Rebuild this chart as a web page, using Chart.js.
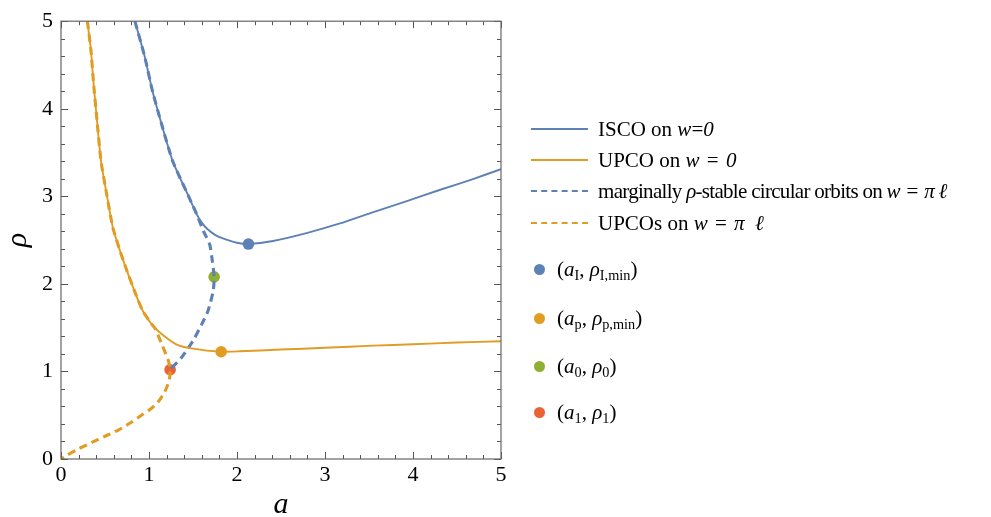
<!DOCTYPE html>
<html>
<head>
<meta charset="utf-8">
<script src="https://cdn.jsdelivr.net/npm/chart.js@4"></script>
<style>
  html, body { margin:0; padding:0; background:#fff; }
  #wrap { position:relative; width:991px; height:517px; }
  #c { position:absolute; left:0; top:0; }
  .leg { position:absolute; font-family:"Liberation Serif", "Times New Roman", serif; font-size:21px; color:#000; white-space:nowrap; line-height:1; }
  .row { position:absolute; display:flex; align-items:center; height:30px; }
  .sw { width:57px; height:0; margin-right:10px; }
  .dot { width:11px; height:11px; border-radius:50%; margin-left:-5px; margin-right:12px; }
  .eq { padding:0 2px; }
  sub { font-size:0.68em; vertical-align:-0.28em; line-height:0; }
</style>
</head>
<body>
<div id="wrap">
<canvas id="c" width="991" height="517"></canvas>
<div class="leg">
  <div class="row" style="left:531px; top:114px;"><div class="sw" style="border-top:2px solid #5E81B5"></div><span>ISCO on <i>w</i>=<i>0</i></span></div>
  <div class="row" style="left:531px; top:145px;"><div class="sw" style="border-top:2px solid #E19C24"></div><span>UPCO on <i>w</i> <span class="eq">=</span> <i>0</i></span></div>
  <div class="row" style="left:531px; top:176px;"><div class="sw" style="border-top:2.5px dashed #5E81B5"></div><span style="letter-spacing:-0.7px">marginally <i>ρ</i>-stable circular orbits on <i>w</i> <span class="eq">=</span> <i>π</i> <i>ℓ</i></span></div>
  <div class="row" style="left:531px; top:208px;"><div class="sw" style="border-top:2.5px dashed #E19C24"></div><span>UPCOs on <i>w</i> <span class="eq">=</span> <i>π</i>&nbsp; <i>ℓ</i></span></div>
  <div class="row" style="left:539px; top:254px;"><div class="dot" style="background:#5E81B5"></div><span>(<i>a</i><sub>I</sub>, <i>ρ</i><sub>I,min</sub>)</span></div>
  <div class="row" style="left:539px; top:303px;"><div class="dot" style="background:#E19C24"></div><span>(<i>a</i><sub>p</sub>, <i>ρ</i><sub>p,min</sub>)</span></div>
  <div class="row" style="left:539px; top:351px;"><div class="dot" style="background:#8FB032"></div><span>(<i>a</i><sub>0</sub>, <i>ρ</i><sub>0</sub>)</span></div>
  <div class="row" style="left:539px; top:397px;"><div class="dot" style="background:#EB6235"></div><span>(<i>a</i><sub>1</sub>, <i>ρ</i><sub>1</sub>)</span></div>
</div>
</div>
<script>
// ---- data ----
const iscoA   = [0.84, 0.95, 1.04, 1.15, 1.27, 1.45, 1.54, 1.60, 1.66, 1.75, 1.84, 2.00, 2.13, 2.41, 2.79, 3.17, 3.55, 3.93, 4.31, 4.69, 5.00];
const iscoRho = [5.00, 4.60, 4.20, 3.80, 3.40, 3.00, 2.80, 2.70, 2.63, 2.56, 2.52, 2.47, 2.455, 2.49, 2.58, 2.69, 2.82, 2.945, 3.075, 3.20, 3.31];

const upcoA   = [0.30, 0.34, 0.37, 0.405, 0.455, 0.52, 0.59, 0.71, 0.85, 0.93, 1.03, 1.14, 1.31, 1.50, 1.82, 2.03, 2.50, 3.00, 3.55, 4.00, 4.50, 5.00];
const upcoRho = [5.00, 4.67, 4.29, 3.91, 3.40, 3.02, 2.64, 2.26, 1.88, 1.69, 1.54, 1.43, 1.31, 1.26, 1.225, 1.23, 1.25, 1.27, 1.295, 1.31, 1.33, 1.345];

const margA   = [0.84, 0.95, 1.04, 1.15, 1.27, 1.45, 1.54, 1.62, 1.69, 1.72, 1.74, 1.73, 1.67, 1.60, 1.50, 1.37, 1.24];
const margRho = [5.00, 4.60, 4.20, 3.80, 3.40, 3.00, 2.80, 2.60, 2.45, 2.26, 2.08, 1.92, 1.69, 1.54, 1.35, 1.16, 1.02];

const upcosA   = [0.30, 0.34, 0.37, 0.405, 0.455, 0.52, 0.59, 0.71, 0.85, 0.93, 1.03, 1.07, 1.15, 1.22, 1.24, 1.235, 1.21, 1.17, 1.11, 1.03, 0.93, 0.80, 0.65, 0.50, 0.35, 0.20, 0.07, 0.00];
const upcosRho = [5.00, 4.67, 4.29, 3.91, 3.40, 3.02, 2.64, 2.26, 1.88, 1.69, 1.54, 1.49, 1.30, 1.125, 1.02, 0.93, 0.84, 0.75, 0.66, 0.58, 0.51, 0.42, 0.33, 0.26, 0.19, 0.115, 0.045, 0.00];

const markerA   = [2.13, 1.82, 1.74, 1.24];
const markerRho = [2.455, 1.225, 2.08, 1.02];
const markerColors = ['#5E81B5', '#E19C24', '#8FB032', '#EB6235'];

const xTickLabels = ['0', '1', '2', '3', '4', '5'];
const yTickLabels = ['0', '1', '2', '3', '4', '5'];

const BLUE = '#5E81B5', ORANGE = '#E19C24';
const pts = (xs, ys) => xs.map((x, i) => ({ x: x, y: ys[i] }));

const frameTicks = {
  id: 'frameTicks',
  afterDatasetsDraw(chart) {
    const { ctx, chartArea: ca, scales: { x, y } } = chart;
    ctx.save();
    ctx.strokeStyle = '#555';
    ctx.lineWidth = 1;
    ctx.beginPath();
    for (let i = 0; i <= 25; i++) {
      const v = i / 5;
      const L = (i % 5 === 0) ? 7 : 4;
      const px = Math.round(x.getPixelForValue(v)) + 0.5;
      ctx.moveTo(px, ca.bottom); ctx.lineTo(px, ca.bottom - L);
      ctx.moveTo(px, ca.top); ctx.lineTo(px, ca.top + L);
      const py = Math.round(y.getPixelForValue(v)) + 0.5;
      ctx.moveTo(ca.left, py); ctx.lineTo(ca.left + L, py);
      ctx.moveTo(ca.right, py); ctx.lineTo(ca.right - L, py);
    }
    ctx.stroke();
    ctx.strokeStyle = '#666';
    ctx.lineWidth = 1.2;
    ctx.strokeRect(ca.left, ca.top, ca.right - ca.left, ca.bottom - ca.top);
    ctx.restore();
  }
};

const lineDs = (label, xs, ys, color, dashed) => ({
  label, data: pts(xs, ys), showLine: true, borderColor: color, backgroundColor: color,
  borderWidth: dashed ? 3.1 : 1.9, borderDash: dashed ? [8, 5] : [], pointRadius: 0,
  tension: 0.2, fill: false
});

new Chart(document.getElementById('c'), {
  type: 'scatter',
  data: {
    datasets: [
      lineDs('ISCO on w=0', iscoA, iscoRho, BLUE, false),
      lineDs('UPCO on w = 0', upcoA, upcoRho, ORANGE, false),
      lineDs('marginally ρ-stable circular orbits on w = π ℓ', margA, margRho, BLUE, true),
      lineDs('UPCOs on w = π ℓ', upcosA, upcosRho, ORANGE, true),
      ...markerA.map((a, i) => ({
        label: 'marker' + i, data: [{ x: a, y: markerRho[i] }], pointRadius: 5.8,
        pointBackgroundColor: markerColors[i], pointBorderWidth: 0, showLine: false
      }))
    ]
  },
  options: {
    responsive: false, animation: false, devicePixelRatio: 1,
    layout: { padding: { top: 19, right: 490, left: 0, bottom: 0 } },
    plugins: { legend: { display: false }, tooltip: { enabled: false } },
    scales: {
      x: {
        type: 'linear', min: 0, max: 5,
        grid: { display: false, drawTicks: false }, border: { display: false },
        ticks: { stepSize: 1, padding: 3, color: '#000', font: { family: 'Liberation Serif', size: 22 },
                 callback: (v) => xTickLabels[v] },
        title: { display: true, text: 'a', color: '#000', padding: { top: 0, bottom: -6 },
                 font: { family: 'Liberation Serif', size: 30, style: 'italic' } },
        afterFit: (s) => { s.height = 58; }
      },
      y: {
        type: 'linear', min: 0, max: 5,
        grid: { display: false, drawTicks: false }, border: { display: false },
        ticks: { stepSize: 1, padding: 8, color: '#000', font: { family: 'Liberation Serif', size: 22 },
                 callback: (v) => yTickLabels[v] },
        title: { display: true, text: 'ρ', color: '#000', padding: { top: 0, bottom: 0 },
                 font: { family: 'Liberation Serif', size: 30, style: 'italic' } },
        afterFit: (s) => { s.width = 61; }
      }
    }
  },
  plugins: [frameTicks]
});
</script>
</body>
</html>
